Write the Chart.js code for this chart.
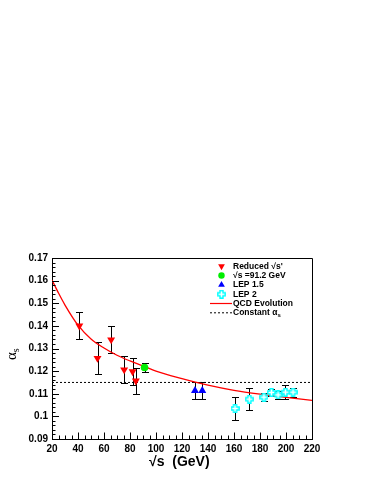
<!DOCTYPE html>
<html>
<head>
<meta charset="utf-8">
<script src="https://cdn.jsdelivr.net/npm/chart.js@4/dist/chart.umd.min.js"></script>
<style>
  body { margin: 0; background: #fff; }
  canvas { display: block; }
</style>
</head>
<body>
<canvas id="chart" width="374" height="484"></canvas>
<script>
// values
const reducedX = [41, 55, 65.5, 75.5, 82, 84.5];
const reducedY = [0.1400, 0.1257, 0.1339, 0.1206, 0.1198, 0.1157];
const reducedErr = [0.0060, 0.0070, 0.0059, 0.0059, 0.0058, 0.0058];

const mzX = [91.2];
const mzY = [0.1216];
const mzErr = [0.0020];

const lep15X = [130, 135.6];
const lep15Y = [0.1114, 0.1114];
const lep15Err = [0.0039, 0.0039];

const lep2X = [160.8, 171.8, 183, 188.8, 193.9, 199.6, 205.4];
const lep2Y = [0.1035, 0.1076, 0.1085, 0.1106, 0.1095, 0.1107, 0.1107];
const lep2Err = [0.0050, 0.0048, 0.0019, 0.0017, 0.0016, 0.0030, 0.0020];

const qcdX = [20, 25, 30, 40, 50, 60, 70, 80, 90, 100, 120, 140, 160, 180, 200, 220];
const qcdY = [0.1603, 0.1545, 0.1492, 0.1403, 0.1342, 0.1302, 0.1270, 0.1245, 0.1223, 0.1200, 0.1167, 0.1138, 0.1115, 0.1098, 0.1084, 0.1071];

const constX = [20, 220];
const constY = [0.115, 0.115];

const xTicks = [20, 40, 60, 80, 100, 120, 140, 160, 180, 200, 220];
const yTicks = [0.09, 0.1, 0.11, 0.12, 0.13, 0.14, 0.15, 0.16, 0.17];

const legendNames = ["Reduced \u221As'", '\u221As =91.2 GeV', 'LEP 1.5', 'LEP 2', 'QCD Evolution', 'Constant \u03B1'];

const SANS = "'Liberation Sans', Arial, Helvetica, sans-serif";
Chart.defaults.font.family = SANS;

function pts(xs, ys) {
  return xs.map((x, i) => ({ x: x, y: ys[i] }));
}

// open cross marker (ROOT style 28)
function openCross(size, color) {
  const c = document.createElement('canvas');
  c.width = size; c.height = size;
  const g = c.getContext('2d');
  const m = size / 2, a = size / 6, L = size / 2 - 0.8;
  g.beginPath();
  g.moveTo(m - a, m - L); g.lineTo(m + a, m - L); g.lineTo(m + a, m - a);
  g.lineTo(m + L, m - a); g.lineTo(m + L, m + a); g.lineTo(m + a, m + a);
  g.lineTo(m + a, m + L); g.lineTo(m - a, m + L); g.lineTo(m - a, m + a);
  g.lineTo(m - L, m + a); g.lineTo(m - L, m - a); g.lineTo(m - a, m - a);
  g.closePath();
  g.fillStyle = '#fff'; g.fill();
  g.strokeStyle = color; g.lineWidth = 1.4; g.stroke();
  return c;
}
const crossImg = openCross(9, '#00ffff');

const errorBars = {
  id: 'errorBars',
  beforeDatasetsDraw(chart) {
    const { ctx, scales: { x, y } } = chart;
    ctx.save();
    ctx.strokeStyle = '#000';
    ctx.lineWidth = 1;
    chart.data.datasets.forEach((ds) => {
      if (!ds.errors) return;
      ds.data.forEach((p, i) => {
        const px = Math.round(x.getPixelForValue(p.x)) + 0.5;
        const top = Math.round(y.getPixelForValue(p.y + ds.errors[i])) + 0.5;
        const bot = Math.round(y.getPixelForValue(p.y - ds.errors[i])) + 0.5;
        ctx.beginPath();
        ctx.moveTo(px, top); ctx.lineTo(px, bot);
        ctx.moveTo(px - 3.5, top); ctx.lineTo(px + 3.5, top);
        ctx.moveTo(px - 3.5, bot); ctx.lineTo(px + 3.5, bot);
        ctx.stroke();
      });
    });
    ctx.restore();
  }
};

const frame = {
  id: 'frame',
  afterDraw(chart) {
    const { ctx, chartArea: { left, right, top, bottom }, scales: { x, y } } = chart;
    ctx.save();
    ctx.strokeStyle = '#000';
    ctx.lineWidth = 1;
    ctx.beginPath();
    ctx.moveTo(left, top + 0.5); ctx.lineTo(right + 0.5, top + 0.5);
    ctx.lineTo(right + 0.5, bottom);
    ctx.stroke();
    // inside ticks, ROOT style
    ctx.beginPath();
    for (let i = 0; i <= 40; i++) {
      const py = Math.round(y.getPixelForValue(0.09 + i * 0.002)) + 0.5;
      const len = i % 5 === 0 ? 7 : 3.5;
      ctx.moveTo(left, py); ctx.lineTo(left + len, py);
    }
    for (let i = 0; i <= 40; i++) {
      const px = Math.round(x.getPixelForValue(20 + i * 5)) + 0.5;
      const len = i % 4 === 0 ? 6.5 : 3.5;
      ctx.moveTo(px, bottom); ctx.lineTo(px, bottom - len);
    }
    ctx.stroke();

    // axis titles
    ctx.fillStyle = '#000';
    ctx.font = 'bold 14px ' + SANS;
    ctx.textAlign = 'left';
    ctx.textBaseline = 'alphabetic';
    ctx.fillText('\u221As  (GeV)', 149, 466);

    ctx.save();
    ctx.translate(16, 360);
    ctx.rotate(-Math.PI / 2);
    ctx.font = '15px "Liberation Serif", serif';
    ctx.fillText('\u03B1', 0, 0);
    const aw = ctx.measureText('\u03B1').width;
    ctx.font = '10px "Liberation Serif", serif';
    ctx.fillText('s', aw, 2.5);
    ctx.restore();

    // legend
    const ds = chart.data.datasets;
    const help = Chart.helpers;
    const mx = 221.5, tx = 233, y0 = 266.3, dy = 9.3;
    ctx.font = 'bold 8.5px ' + SANS;
    ctx.textBaseline = 'middle';
    for (let i = 0; i < 4; i++) {
      const d = ds[i + 2];
      const yy = y0 + i * dy;
      ctx.fillStyle = d.backgroundColor;
      help.drawPoint(ctx, {
        pointStyle: d.pointStyle, rotation: d.rotation || 0,
        radius: d.pointRadius * 0.85, borderWidth: 0
      }, mx, yy);
    }
    // line samples
    let yy = y0 + 4 * dy;
    ctx.strokeStyle = ds[0].borderColor; ctx.lineWidth = 1.2;
    ctx.beginPath(); ctx.moveTo(210, yy); ctx.lineTo(232, yy); ctx.stroke();
    yy = y0 + 5 * dy;
    ctx.strokeStyle = '#000'; ctx.lineWidth = 1;
    ctx.setLineDash([2, 2]);
    ctx.beginPath(); ctx.moveTo(210, yy); ctx.lineTo(232, yy); ctx.stroke();
    ctx.setLineDash([]);
    ctx.fillStyle = '#000';
    legendNames.forEach((t, i) => {
      ctx.font = 'bold 8.5px ' + SANS;
      ctx.fillText(t, tx, y0 + i * dy);
      if (i === 5) {
        const w = ctx.measureText(t).width;
        ctx.font = 'bold 6px ' + SANS;
        ctx.fillText('s', tx + w, y0 + i * dy + 2.5);
      }
    });
    ctx.restore();
  }
};

new Chart(document.getElementById('chart'), {
  type: 'scatter',
  data: {
    datasets: [
      {
        label: 'QCD Evolution',
        data: pts(qcdX, qcdY),
        showLine: true,
        borderColor: '#ff0000',
        borderWidth: 1.3,
        pointRadius: 0,
        cubicInterpolationMode: 'monotone',
        order: 10
      },
      {
        label: 'Constant',
        data: pts(constX, constY),
        showLine: true,
        borderColor: '#000',
        borderWidth: 1,
        borderDash: [2, 2],
        pointRadius: 0,
        order: 11
      },
      {
        label: 'Reduced',
        data: pts(reducedX, reducedY),
        errors: reducedErr,
        pointStyle: 'triangle',
        rotation: 180,
        pointRadius: 4.6,
        backgroundColor: '#ff0000',
        borderWidth: 0,
        order: 1
      },
      {
        label: 'MZ',
        data: pts(mzX, mzY),
        errors: mzErr,
        pointStyle: 'circle',
        pointRadius: 3.8,
        backgroundColor: '#00ee00',
        borderWidth: 0,
        order: 1
      },
      {
        label: 'LEP 1.5',
        data: pts(lep15X, lep15Y),
        errors: lep15Err,
        pointStyle: 'triangle',
        pointRadius: 4.6,
        backgroundColor: '#0000ff',
        borderWidth: 0,
        order: 1
      },
      {
        label: 'LEP 2',
        data: pts(lep2X, lep2Y),
        errors: lep2Err,
        pointStyle: crossImg,
        pointRadius: 4.5,
        backgroundColor: '#00ffff',
        borderWidth: 0,
        order: 1
      }
    ]
  },
  options: {
    responsive: false,
    animation: false,
    devicePixelRatio: 1,
    layout: { padding: { top: 258, right: 62, left: 0, bottom: 0 } },
    plugins: { legend: { display: false }, tooltip: { enabled: false } },
    scales: {
      x: {
        type: 'linear',
        min: 20,
        max: 220,
        afterFit: (s) => { s.height = 45; },
        afterBuildTicks: (s) => { s.ticks = xTicks.map((v) => ({ value: v })); },
        grid: { display: false, drawTicks: false, tickLength: 0 },
        border: { display: true, color: '#000', width: 1 },
        ticks: {
          color: '#000',
          font: { size: 10, weight: 'bold' },
          padding: 4,
          maxRotation: 0,
          autoSkip: false
        }
      },
      y: {
        type: 'linear',
        min: 0.09,
        max: 0.17,
        afterFit: (s) => { s.width = 52; },
        afterBuildTicks: (s) => { s.ticks = yTicks.map((v) => ({ value: v })); },
        grid: { display: false, drawTicks: false, tickLength: 0 },
        border: { display: true, color: '#000', width: 1 },
        ticks: {
          color: '#000',
          font: { size: 10, weight: 'bold' },
          padding: 4,
          autoSkip: false,
          callback: (v) => String(+v.toFixed(2))
        }
      }
    }
  },
  plugins: [errorBars, frame]
});
</script>
</body>
</html>
